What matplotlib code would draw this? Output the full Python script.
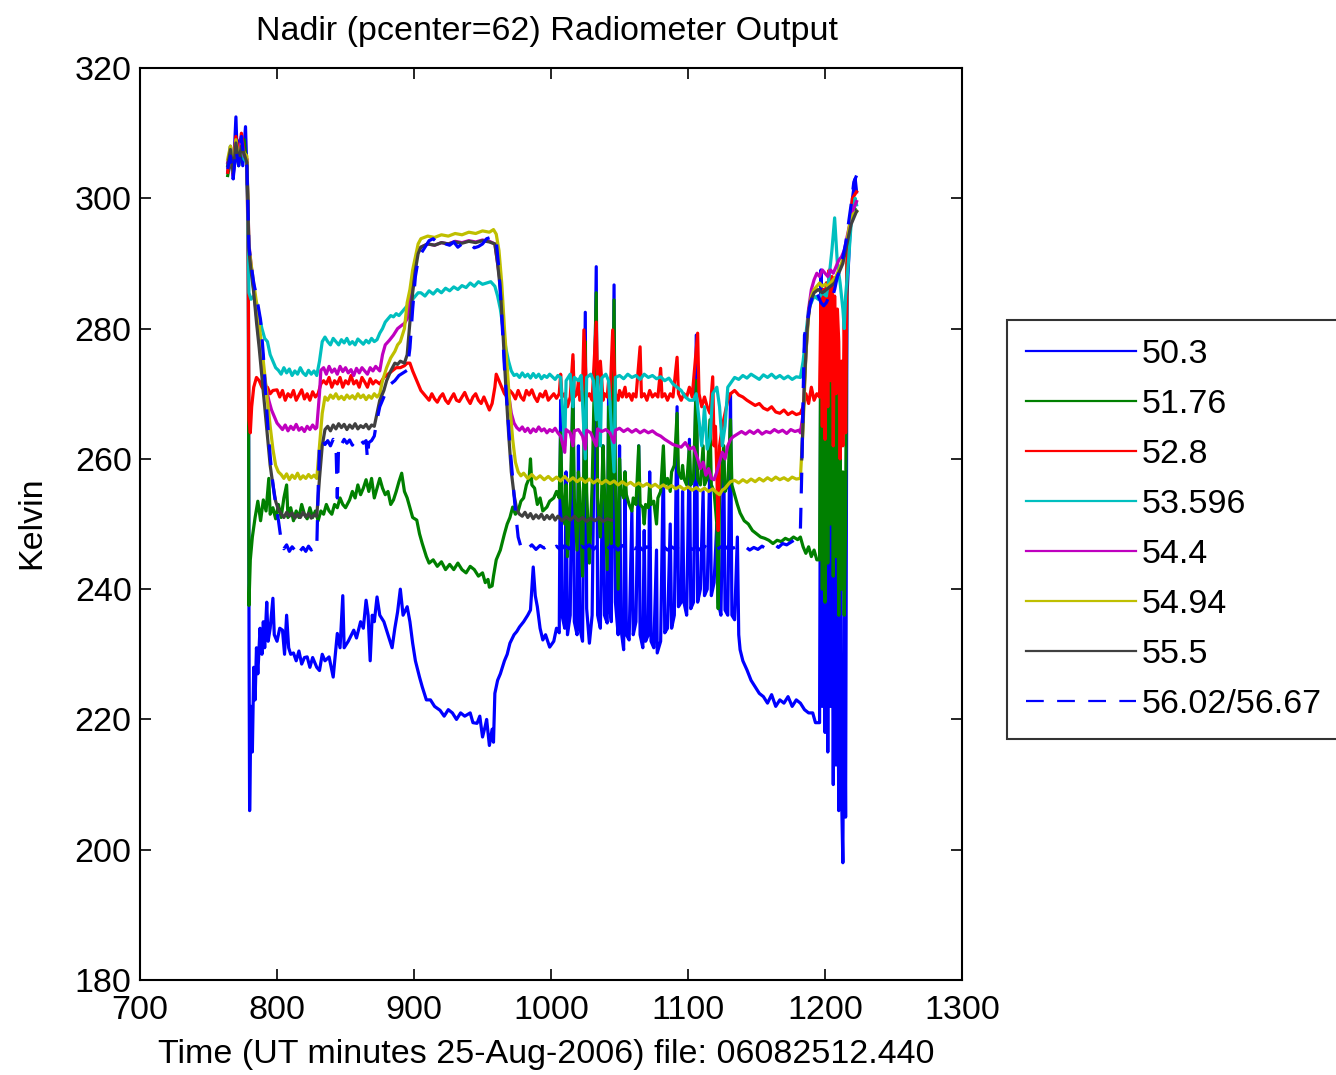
import numpy as np
import matplotlib
matplotlib.use("Agg")
import matplotlib.pyplot as plt

plt.rcParams['font.family'] = ['Liberation Sans', 'DejaVu Sans']

channels = ["50.3", "51.76", "52.8", "53.596", "54.4", "54.94", "55.5", "56.02/56.67"]
colors = [(0, 0, 1), (0, 0.5, 0), (1, 0, 0), (0, 0.75, 0.75),
          (0.75, 0, 0.75), (0.75, 0.75, 0), (0.25, 0.25, 0.25), (0, 0, 1)]

# (minute, kelvin) samples for each channel
ch_503 = [(764, 304), (766, 307), (768, 303), (770, 312.5), (771, 306), (773, 309), (775, 305), (777, 311),
          (778, 304), (779, 296), (779.6, 230), (780, 206), (781, 222), (782, 215), (783, 228), (784, 223),
          (785, 231), (786, 227), (787.6, 234), (789, 230), (790, 235), (791, 231), (792.5, 238), (793.5, 232),
          (795, 234), (797, 238.6), (798, 233), (800, 232), (802, 234), (804, 233.7), (805.5, 230), (807, 236),
          (808.5, 231), (810, 230), (812, 230.2), (814, 229), (816, 230.5), (818, 228.5), (820, 229.5),
          (822, 229.6), (824, 228), (826, 229.5), (829, 228), (831, 227.5), (833, 230), (835, 229),
          (838, 229.6), (841, 226.5), (844, 233.2), (846, 231), (848, 239), (849, 231), (852, 232),
          (856, 233.7), (858, 232.5), (861, 235), (863, 234), (865, 238.3), (866.5, 236), (868, 229),
          (869.5, 236), (871, 235), (873, 238.8), (875, 236), (878, 235), (881, 233), (884, 231), (886, 234),
          (888, 236.5), (890, 240), (892, 236), (895, 237.3), (897, 235), (899, 231.7), (901, 229),
          (904, 226.5), (906, 225), (909, 223), (912, 223), (915, 222), (919, 221.4), (922, 220.5),
          (925, 221.5), (928, 221), (931, 220), (934, 221), (937, 220.5), (941, 221), (943, 219.5),
          (946, 219.4), (948, 220.5), (950, 217.3), (952, 219), (953, 220), (955, 216), (957, 218.5),
          (958, 216.5), (959, 224), (961, 226), (963, 227), (966, 229), (968, 230), (970, 231.7), (973, 233),
          (975, 233.5), (977, 234.2), (980, 235), (983, 236), (985, 236.8), (987, 243.4), (988.5, 239),
          (990, 237.3), (992, 234), (994, 232.2), (996, 233), (999, 231.1), (1002, 232), (1004, 234),
          (1006, 233.3), (1007, 269), (1008, 236), (1010, 234), (1011, 258), (1012, 233), (1014, 236),
          (1016, 275), (1017, 235), (1019, 233), (1020, 262), (1021, 234), (1023, 232), (1025, 282.5),
          (1026, 237), (1028, 231.7), (1030, 236), (1033, 289.5), (1034, 236), (1036, 234), (1038, 262),
          (1039, 236), (1041, 234.8), (1042, 270), (1043, 237), (1044, 235), (1046, 286.7), (1047, 238),
          (1049, 233), (1050, 262), (1051, 234), (1053, 230.7), (1054, 258), (1055, 233), (1057, 232.2),
          (1059, 252), (1060, 233), (1062, 235), (1064, 262), (1065, 233), (1067, 231), (1068, 249),
          (1069, 232), (1071, 233), (1072, 258), (1073, 232), (1075, 231), (1077, 246), (1077.5, 230.2),
          (1080, 232), (1082, 260), (1083, 233.3), (1085, 234), (1087, 250), (1088, 234), (1090, 236),
          (1092, 268), (1093, 237.3), (1095, 238), (1096, 255), (1097, 238), (1099, 236), (1101, 263),
          (1102, 237), (1104, 238), (1106, 279), (1107, 238), (1109, 240), (1111, 255), (1112, 239),
          (1114, 240), (1116, 260), (1117, 239), (1119, 241), (1121, 250), (1122, 238), (1124, 236),
          (1126, 262), (1127, 236.8), (1129, 236), (1131, 270), (1132, 236), (1134, 235.3), (1136, 248),
          (1137, 233), (1138, 230.7), (1140, 229), (1143, 227.6), (1146, 226), (1149, 225), (1152, 224),
          (1155, 223.5), (1158, 222.5), (1161, 223.8), (1164, 222), (1167, 223), (1170, 222.5),
          (1173, 223.5), (1176, 222), (1179, 223), (1182, 222.5), (1185, 221.5), (1188, 221), (1191, 221),
          (1193, 219.5), (1196, 219.5), (1197, 289), (1198, 222), (1199, 275), (1200, 218), (1201, 268),
          (1202, 215), (1203, 262), (1204, 222), (1205, 255), (1206, 210), (1207, 250), (1208, 213),
          (1209, 247), (1210, 206), (1211, 246), (1212, 209), (1213, 198), (1214, 240), (1215, 205),
          (1216, 285), (1218, 294), (1220, 300), (1222, 303), (1223, 301)]

ch_5176 = [(764, 303.5), (766, 306), (768, 304), (770, 308), (772, 305), (774, 307.5), (776, 309), (778, 305),
           (779, 298), (779.5, 237.5), (780.5, 244.5), (782, 248), (784, 251), (786, 253.5), (788, 250.5),
           (790, 253.7), (792, 252), (794, 257), (795, 251.5), (797, 252.5), (799, 250.8), (801, 253),
           (803, 251), (805, 254), (807, 256), (808, 251), (810, 252.5), (812, 250.5), (814, 252), (816, 251),
           (818, 253), (820, 251.5), (822, 250.8), (824, 252.5), (826, 251), (828, 252), (830, 250.5),
           (832, 252), (834, 251.5), (836, 253), (838, 252), (840, 251.5), (842, 253), (844, 252.5),
           (846, 254), (848, 253), (850, 252.5), (853, 253.7), (855, 255), (857, 254), (859, 256),
           (861, 254.5), (863, 255.5), (865, 256.8), (867, 255), (869, 257), (871, 254), (873, 255.5),
           (875, 257), (877, 255.5), (879, 254.5), (881, 255), (883, 253), (885, 253.7), (887, 255),
           (889, 256.5), (891, 257.8), (893, 255), (895, 254), (897, 252.5), (899, 251), (902, 250.6),
           (904, 248.5), (906, 247), (909, 245), (911, 244), (914, 244.5), (917, 243.5), (920, 244.2),
           (923, 243), (926, 243.8), (929, 243), (932, 244), (935, 243), (938, 242.5), (941, 243.5),
           (944, 243), (947, 242), (950, 242.5), (952, 241), (954, 241.5), (955, 240.3), (957, 240.5),
           (958, 242), (960, 244.5), (963, 246), (966, 248.5), (968, 250), (970, 251), (972, 252.6),
           (974, 251.5), (976, 252), (978, 253.5), (980, 254), (982, 256), (984, 257), (985, 260),
           (986, 256), (988, 255.5), (990, 253), (992, 254), (994, 252), (997, 252.6), (999, 253.5),
           (1002, 254), (1004, 255), (1006, 254), (1007, 264), (1008, 255), (1010, 250), (1011, 256),
           (1012, 245), (1014, 254), (1016, 270), (1017, 254), (1019, 246), (1020, 258), (1021, 255),
           (1023, 242), (1025, 278), (1026, 255), (1028, 244), (1030, 256), (1033, 285.5), (1034, 254),
           (1036, 248), (1038, 262), (1039, 255), (1041, 243), (1042, 268), (1043, 256), (1044, 247),
           (1046, 284.4), (1047, 256), (1049, 240), (1050, 260), (1051, 255), (1053, 254), (1054, 258),
           (1055, 254.5), (1057, 253), (1059, 252), (1060, 254), (1062, 253), (1064, 262), (1065, 253),
           (1067, 252.5), (1068, 250), (1069, 253), (1071, 252.5), (1072, 256), (1073, 253), (1075, 253.5),
           (1077, 250), (1078, 254), (1080, 255), (1082, 262), (1083, 256), (1085, 257), (1087, 255),
           (1088, 258), (1090, 259), (1092, 267), (1093, 258), (1095, 257), (1096, 259), (1097, 257),
           (1099, 256), (1101, 262), (1102, 256), (1104, 257), (1106, 272), (1107, 257), (1109, 256),
           (1111, 262), (1112, 256), (1114, 257), (1116, 266), (1117, 256), (1119, 255), (1121, 250),
           (1122, 237), (1123, 255), (1124, 256), (1126, 262), (1127, 255), (1129, 256), (1131, 266),
           (1132, 256), (1134, 254.5), (1136, 253), (1138, 251.7), (1141, 250.5), (1144, 250), (1147, 249),
           (1150, 248.5), (1153, 248), (1156, 247.8), (1159, 247.5), (1162, 247), (1165, 247.5),
           (1168, 247.3), (1171, 247.8), (1174, 247.5), (1177, 248), (1180, 247.6), (1182, 248),
           (1184, 246.5), (1186, 245.5), (1188, 246.5), (1190, 245), (1192, 246), (1194, 244.5),
           (1196, 244.5), (1197, 285), (1198, 240), (1199, 284), (1200, 238), (1201, 287), (1202, 244),
           (1203, 286), (1204, 250), (1205, 283), (1206, 242), (1207, 280), (1208, 245), (1209, 270),
           (1210, 236), (1211, 262), (1212, 240), (1213, 258), (1214, 236), (1215, 250), (1216, 290),
           (1218, 296), (1220, 299), (1223, 298)]

ch_528 = [(764, 304), (766, 308), (768, 305), (770, 309.5), (772, 306), (774, 310), (776, 307), (778, 306),
          (779, 290), (779.5, 266), (780.5, 264), (781.5, 268), (783, 271), (785, 272.5), (787, 272),
          (789, 271), (791, 270.5), (793, 271), (795, 270), (797, 270.5), (800, 270.6), (802, 269.5),
          (804, 270.5), (806, 269), (808, 270), (810, 269.5), (812, 270.5), (814, 269), (816, 269.8),
          (818, 270.6), (820, 269.2), (822, 270), (824, 269), (826, 270.3), (828, 269.5), (830, 270),
          (832, 271.5), (834, 272), (836, 271.5), (838, 272.5), (840, 271), (842, 272), (844, 271.5),
          (846, 272.5), (848, 271), (850, 272), (852, 271.5), (854, 272.8), (856, 271.5), (858, 272),
          (860, 271), (862, 272.5), (864, 271.8), (866, 271), (868, 272.3), (870, 271.5), (872, 272),
          (875, 271.5), (878, 272.5), (881, 273), (884, 273.5), (887, 274), (890, 274), (893, 274.3),
          (895, 274.7), (897, 274.7), (899, 273.5), (901, 272.5), (903, 271.5), (905, 270.5), (907, 270),
          (909, 269.5), (911, 269), (913, 270), (915, 269.2), (917, 268.7), (919, 269.5), (921, 270),
          (923, 269), (925, 268.5), (927, 269.3), (929, 270), (931, 269), (933, 268.8), (935, 269.5),
          (937, 270.2), (939, 269.2), (941, 268.5), (943, 269.5), (945, 270), (947, 269), (949, 268.5),
          (951, 269.5), (953, 268.5), (955, 267.5), (957, 268.5), (959, 271), (960, 273), (962, 272),
          (964, 271), (966, 270), (968, 269.5), (970, 270.5), (972, 270), (974, 269.2), (976, 270.5),
          (978, 269.5), (980, 269), (982, 270.5), (984, 269.8), (986, 270.6), (988, 269.5), (990, 268.8),
          (992, 270), (994, 269.5), (996, 270.4), (998, 269), (1000, 269.5), (1002, 270), (1004, 269.3),
          (1006, 270), (1007, 273), (1008, 269.5), (1010, 270), (1012, 268), (1014, 269.5), (1016, 276),
          (1017, 269.5), (1019, 270), (1020, 272), (1021, 269), (1023, 270.5), (1024, 279.8), (1026, 269.5),
          (1028, 270), (1030, 269), (1033, 281), (1034, 270.5), (1036, 275), (1038, 269), (1039, 270),
          (1041, 269.5), (1042, 272), (1043, 269), (1045, 279.8), (1047, 270), (1049, 269), (1050, 270.5),
          (1052, 269.5), (1054, 271), (1055, 269.5), (1057, 270), (1059, 269), (1060, 270), (1062, 269.5),
          (1065, 277.2), (1066, 269.5), (1068, 270), (1070, 269), (1072, 270.5), (1074, 269.5), (1076, 270),
          (1078, 269.5), (1080, 273.9), (1081, 269.5), (1083, 270), (1085, 269), (1087, 270),
          (1089, 269.5), (1092, 275.6), (1093, 270), (1095, 269), (1097, 270), (1099, 269.5), (1101, 271),
          (1103, 269.5), (1107, 279.3), (1108, 270), (1110, 268), (1112, 269.5), (1114, 268), (1116, 267),
          (1118, 272.6), (1119, 262), (1120, 265), (1121, 258), (1122, 249), (1123, 262), (1125, 265),
          (1127, 267), (1129, 269), (1131, 270), (1134, 270.5), (1137, 269.8), (1140, 269.5), (1143, 269),
          (1146, 268.6), (1149, 268.2), (1152, 268.5), (1155, 267.8), (1158, 267.5), (1161, 268),
          (1164, 267.2), (1167, 267), (1170, 267.5), (1173, 266.8), (1176, 267.2), (1179, 266.8),
          (1182, 267), (1184, 268), (1186, 270), (1188, 268.5), (1190, 271), (1192, 269), (1194, 270),
          (1196, 269.5), (1197, 285), (1198, 265), (1199, 286), (1200, 263), (1201, 287), (1202, 268),
          (1203, 289), (1204, 272), (1205, 288), (1206, 262), (1207, 285), (1208, 270), (1209, 283),
          (1210, 278), (1211, 260), (1212, 275), (1213, 262), (1214, 283), (1215, 264), (1216, 290),
          (1218, 296), (1220, 300), (1223, 301)]

ch_53596 = [(764, 305), (766, 308), (768, 304.5), (770, 307), (772, 305.5), (774, 308.5), (776, 306),
            (778, 305.5), (779, 292), (779.5, 285.5), (781, 284.5), (783, 285), (785, 284), (787, 282),
            (789, 280), (791, 278.5), (793, 278), (795, 276), (797, 275), (799, 274), (801, 273.6),
            (803, 273), (805, 274), (807, 273.2), (809, 273.8), (811, 272.8), (813, 273.5), (815, 273),
            (817, 274), (819, 273.2), (821, 272.8), (823, 273.6), (825, 273), (827, 273.5), (829, 272.8),
            (831, 275), (833, 278), (835, 278.7), (837, 278), (839, 277.5), (841, 278.5), (843, 278),
            (845, 277.5), (847, 278.3), (849, 277.8), (851, 278.5), (853, 277.6), (855, 278), (857, 277.5),
            (859, 278.4), (861, 278), (863, 277.6), (865, 278.2), (867, 277.8), (869, 278.5), (871, 278),
            (873, 278.3), (875, 279.3), (877, 280), (879, 281), (881, 281.5), (883, 282), (885, 281.8),
            (887, 282.3), (889, 282), (891, 282.5), (893, 283), (895, 283.5), (897, 284), (899, 284.5),
            (901, 285), (903, 285.5), (905, 285.5), (908, 285), (911, 285.8), (914, 285.3), (917, 286),
            (920, 285.5), (923, 286.2), (926, 285.8), (929, 286.4), (932, 286), (935, 286.6), (938, 286.3),
            (941, 287), (944, 286.5), (947, 287.2), (950, 286.8), (953, 287), (956, 287.2), (959, 286.5),
            (961, 285), (963, 283), (965, 280), (967, 277), (969, 275), (971, 273.5), (973, 272.8),
            (975, 273), (977, 272.5), (979, 273.2), (981, 272.6), (983, 273), (985, 272.4), (987, 273.1),
            (989, 272.5), (991, 273), (993, 272.3), (995, 272.8), (997, 272.5), (999, 273), (1001, 272.6),
            (1003, 272.2), (1005, 272.8), (1007, 272.5), (1010, 262), (1011, 272), (1014, 273),
            (1016, 268), (1017, 272.5), (1020, 272), (1022, 272.8), (1025, 260), (1026, 272.5),
            (1029, 273), (1031, 272), (1033, 266), (1034, 272.6), (1036, 262), (1037, 272.4), (1040, 273),
            (1042, 272), (1046, 258), (1047, 272.5), (1050, 272.8), (1053, 272.3), (1056, 273),
            (1059, 272.5), (1062, 272.8), (1065, 272.2), (1068, 273), (1071, 272.5), (1074, 272.8),
            (1077, 272.3), (1080, 272.6), (1083, 272), (1086, 272.4), (1089, 271.5), (1092, 271),
            (1095, 270.5), (1098, 269.5), (1101, 269), (1104, 269), (1106, 270), (1108, 266), (1110, 262),
            (1112, 268), (1114, 261.5), (1116, 263), (1118, 270), (1121, 271), (1123, 268), (1125, 262),
            (1127, 265), (1129, 271), (1131, 271.6), (1134, 272.5), (1137, 272.2), (1140, 272.8),
            (1143, 272.4), (1146, 273), (1149, 272.6), (1152, 272.2), (1155, 272.9), (1158, 272.5),
            (1161, 273), (1164, 272.4), (1167, 272.8), (1170, 272.3), (1173, 272.7), (1176, 272.2),
            (1179, 272.6), (1182, 272.5), (1184, 275), (1186, 279), (1188, 283), (1190, 284), (1192, 285),
            (1195, 284.5), (1198, 285.5), (1201, 285), (1203, 288), (1205, 292), (1207, 297), (1209, 290),
            (1211, 287), (1213, 283), (1214, 280), (1215, 285), (1217, 290), (1219, 296), (1222, 300),
            (1223, 299)]

ch_544 = [(764, 305.5), (766, 307), (768, 303.5), (770, 308), (772, 306), (774, 309), (776, 306.5), (778, 306),
          (779.5, 293), (781, 290), (783, 286), (785, 282), (787, 278), (789, 275.5), (790, 273.6),
          (792, 271), (794, 269), (796, 267.5), (798, 266.5), (800, 265.5), (802, 265), (804, 264.5),
          (806, 265.2), (808, 264.3), (810, 265), (812, 264.5), (814, 265.3), (816, 264.4), (818, 264.8),
          (820, 264.2), (822, 265), (824, 264.5), (826, 265.2), (828, 264.6), (829, 264.8), (831, 270),
          (832, 273.6), (834, 274), (836, 273), (838, 274.2), (840, 273.3), (842, 273.8), (844, 273),
          (846, 274.2), (848, 273.4), (850, 274), (852, 273.2), (854, 273.7), (856, 272.8), (858, 273.9),
          (860, 273.2), (862, 274), (864, 273.5), (866, 273), (868, 274), (870, 273.5), (872, 274.2),
          (875, 273.5), (877, 276), (879, 277.5), (882, 278.2), (885, 279), (888, 280), (891, 280.5),
          (893, 280.8), (895, 281.5), (897, 284), (899, 288), (901, 290.5), (903, 292), (905, 292.5),
          (910, 293), (915, 292.8), (920, 293.2), (925, 293), (930, 293.4), (935, 293.2), (940, 293.5),
          (945, 293.3), (950, 293.6), (955, 293.4), (959, 293), (961, 290), (963, 287), (965, 280),
          (967, 275), (969, 270), (971, 267), (973, 265.5), (975, 264.8), (977, 264.4), (979, 264.9),
          (981, 264.2), (983, 264.7), (985, 264), (987, 264.6), (989, 264.2), (991, 264.9), (993, 264.3),
          (995, 264.6), (997, 264), (999, 264.5), (1001, 264.2), (1003, 264.7), (1005, 264),
          (1007, 263.5), (1010, 261), (1011, 264.5), (1014, 264), (1016, 262), (1017, 264.3),
          (1020, 264.5), (1023, 263.5), (1025, 261.5), (1026, 264.4), (1029, 264), (1033, 262),
          (1034, 264.6), (1037, 264.2), (1040, 264.5), (1043, 264), (1046, 262.5), (1047, 264.4),
          (1050, 264.7), (1053, 264.2), (1056, 264.6), (1059, 264.1), (1062, 264.5), (1065, 264),
          (1068, 264.4), (1071, 264), (1074, 264.3), (1077, 263.8), (1080, 263.5), (1083, 263),
          (1086, 262.6), (1089, 262.2), (1092, 262), (1095, 261.8), (1098, 262.5), (1101, 261.5),
          (1104, 261.8), (1107, 260), (1109, 258.5), (1111, 259.5), (1113, 257.5), (1115, 258.5),
          (1117, 257), (1119, 256.8), (1121, 258), (1123, 259.5), (1125, 261), (1127, 260), (1129, 262),
          (1131, 263), (1133, 263.4), (1136, 263.8), (1139, 264.2), (1142, 263.8), (1145, 264.3),
          (1148, 263.9), (1151, 264.4), (1154, 263.8), (1157, 264.2), (1160, 264), (1163, 264.5),
          (1166, 264.1), (1169, 264.4), (1172, 263.9), (1175, 264.5), (1178, 264.2), (1181, 264.4),
          (1182, 264), (1184, 267), (1186, 276), (1188, 283), (1190, 286), (1192, 287.5), (1194, 288.5),
          (1196, 288), (1198, 289), (1200, 288.5), (1202, 288), (1204, 289), (1206, 288.5), (1208, 289.5),
          (1210, 290.5), (1212, 291), (1214, 292), (1216, 294), (1218, 296), (1220, 298), (1223, 299.5)]

ch_5494 = [(764, 306), (766, 308), (768, 304), (770, 309), (772, 306), (774, 308), (776, 307), (778, 306.5),
           (779.5, 292.5), (781, 290), (783, 287), (785, 284), (787, 280.5), (789, 277), (791, 273),
           (793, 269), (795, 265), (797, 261.5), (799, 259), (801, 258), (803, 257.6), (805, 257),
           (807, 257.7), (809, 256.8), (811, 257.5), (813, 257), (815, 257.8), (817, 256.9), (819, 257.4),
           (821, 257), (823, 257.6), (825, 257.1), (827, 257.5), (829, 257), (831, 262), (833, 267),
           (835, 269.5), (837, 269), (839, 269.8), (841, 269.3), (843, 270), (845, 269.2), (847, 269.6),
           (849, 269.1), (851, 269.8), (853, 269.3), (855, 269.7), (857, 269.2), (859, 270), (861, 269.4),
           (863, 269.8), (865, 269.1), (867, 269.7), (869, 269.3), (871, 270), (873, 269.5), (875, 270),
           (877, 272), (880, 274), (883, 275.5), (886, 276.5), (888, 277.5), (890, 278), (893, 280),
           (895, 284), (897, 286), (899, 289), (901, 291), (903, 293), (905, 293.8), (910, 294.2),
           (915, 294), (920, 294.4), (925, 294.2), (930, 294.6), (935, 294.4), (940, 294.8), (945, 294.6),
           (950, 295), (955, 294.8), (958, 295.2), (960, 294.5), (962, 292), (964, 287), (966, 280),
           (968, 274), (970, 268), (972, 263), (974, 259.5), (976, 258), (978, 257.4), (980, 257.8),
           (983, 257), (986, 257.6), (989, 256.9), (992, 257.4), (995, 256.8), (998, 257.3), (1001, 256.7),
           (1004, 257.2), (1007, 256.6), (1010, 257.3), (1013, 256.6), (1016, 257.1), (1019, 256.5),
           (1022, 257), (1025, 256.4), (1028, 256.9), (1031, 256.3), (1034, 256.8), (1037, 256.2),
           (1040, 256.7), (1043, 256.2), (1046, 256.6), (1049, 256), (1052, 256.5), (1055, 256),
           (1058, 256.4), (1061, 255.9), (1064, 256.3), (1067, 255.8), (1070, 256.2), (1073, 255.7),
           (1076, 256.1), (1079, 255.6), (1082, 256), (1085, 255.5), (1088, 255.9), (1091, 255.4),
           (1094, 255.8), (1097, 255.3), (1100, 255.7), (1103, 255.2), (1106, 255.6), (1109, 255.1),
           (1112, 255.5), (1115, 255), (1118, 255.4), (1121, 254.8), (1123, 254.5), (1125, 255.2),
           (1127, 255.5), (1129, 256), (1131, 256.5), (1134, 256.7), (1137, 256.3), (1140, 256.8),
           (1143, 256.4), (1146, 256.9), (1149, 256.5), (1152, 257), (1155, 256.6), (1158, 257.1),
           (1161, 256.7), (1164, 257.2), (1167, 256.8), (1170, 257.1), (1173, 256.7), (1176, 257.2),
           (1179, 256.9), (1182, 257), (1184, 265), (1186, 276), (1188, 282), (1190, 285), (1192, 286),
           (1194, 286.5), (1196, 287), (1198, 286.5), (1200, 286.8), (1202, 286.5), (1204, 287),
           (1206, 287.5), (1208, 288), (1210, 289), (1212, 290), (1214, 291.5), (1216, 293.5), (1218, 296),
           (1220, 297.5), (1223, 298)]

ch_555 = [(764, 305), (766, 307.5), (768, 303.8), (770, 308.5), (772, 305.5), (774, 308), (776, 306.8),
          (778, 305.5), (779.5, 292), (781, 289), (783, 285.5), (785, 281), (787, 277), (789, 272.5),
          (791, 268), (793, 263.5), (795, 259), (797, 256), (799, 253.5), (801, 252.2), (803, 251.6),
          (805, 251), (807, 251.8), (809, 251.2), (811, 251.7), (813, 250.9), (815, 251.5), (817, 251),
          (819, 251.8), (821, 251.1), (823, 251.6), (825, 250.9), (827, 251.4), (829, 251.2), (831, 257),
          (833, 262), (835, 264.5), (837, 265), (839, 264.3), (841, 265.2), (843, 264.6), (845, 265.4),
          (847, 264.8), (849, 265.3), (851, 264.5), (853, 265.2), (855, 264.7), (857, 265.4), (859, 264.6),
          (861, 265.1), (863, 264.8), (865, 265.3), (867, 264.6), (869, 265.2), (871, 265), (873, 267),
          (875, 269), (878, 270.5), (880, 272), (883, 273.5), (886, 274.7), (888, 274.5), (890, 275),
          (893, 274.7), (895, 276), (897, 281), (899, 285.5), (901, 289), (903, 291.5), (905, 292.5),
          (910, 293), (915, 292.8), (920, 293.2), (925, 293), (930, 293.3), (935, 293.1), (940, 293.4),
          (945, 293.2), (950, 293.5), (955, 293.3), (959, 293), (961, 290), (963, 286), (965, 279),
          (967, 271), (969, 264), (971, 258), (973, 254.5), (975, 252.2), (977, 251.5), (979, 251.2),
          (981, 251.8), (983, 251), (985, 251.6), (987, 250.8), (989, 251.4), (991, 250.9), (993, 251.5),
          (995, 250.7), (997, 251.3), (999, 250.8), (1001, 251.4), (1003, 250.6), (1005, 251.2),
          (1008, 250.5), (1011, 251.1), (1014, 250.6), (1017, 251.2), (1020, 250.5), (1023, 251),
          (1026, 250.4), (1029, 250.9), (1032, 250.5), (1035, 251), (1038, 250.4), (1041, 250.8),
          (1044, 250.6), (1045, np.nan), (1183, 260), (1185, 272), (1187, 280), (1189, 284),
          (1192, 285.5), (1195, 286), (1198, 285.5), (1201, 286), (1204, 286.5), (1207, 287),
          (1210, 288.5), (1213, 290), (1216, 293), (1219, 296), (1223, 298)]

ch_5602 = [(764, 304.5), (766, 306.5), (768, 303), (770, 307.5), (772, 305), (774, 309.5), (776, 306),
           (778, 305), (779.5, 292.5), (781, 290), (783, 287), (785, 285), (788, 281.3), (790, 276),
           (792, 269), (794, 263), (796, 258), (798, 254.5), (801, 250.6), (803, 247.5), (805, 246.2),
           (807, 246.8), (809, 245.8), (811, 246.5), (813, 246), (815, 246.9), (817, 245.9), (819, 246.4),
           (821, 245.8), (823, 246.6), (825, 246), (827, 246.5), (829, 246.2), (830, 255), (831, 262.4),
           (833, 263), (835, 262.2), (837, 262.8), (839, 262), (841, 263), (843, 262.4), (844, 254),
           (845, 262.5), (847, 262.2), (849, 263), (851, 262.4), (853, 262.9), (855, 262.1), (857, 262.7),
           (859, 262.3), (861, 263), (863, 262.4), (865, 262.8), (866, 260), (867, 262.5), (869, 262.8),
           (871, 263.5), (873, 266), (875, 268), (878, 269.5), (880, 270.5), (883, 271.5), (886, 272),
           (889, 272.8), (892, 273.2), (895, 273.6), (897, 277), (899, 283), (901, 288), (903, 290.5),
           (905, 291.5), (908, 292.5), (911, 293.5), (914, 293.8), (917, 293.2), (920, 293.7), (923, 293),
           (926, 292.8), (929, 293.3), (932, 292.5), (935, 293), (938, 292.6), (941, 293), (944, 292.4),
           (947, 292.6), (950, 293), (953, 293.8), (956, 294), (958, 294.3), (960, 293.5), (962, 289),
           (964, 282), (966, 274), (968, 268), (970, 262), (972, 257), (974, 252), (976, 248),
           (978, 246.5), (980, 246.9), (983, 246.2), (986, 246.8), (989, 246.1), (992, 246.7),
           (995, 246.3), (998, 246.9), (1001, 246.2), (1004, 246.6), (1007, 246), (1010, 246.7),
           (1013, 246.2), (1016, 246.8), (1019, 246.1), (1022, 246.6), (1025, 246.3), (1028, 246.8),
           (1031, 246.1), (1034, 246.7), (1037, 246.3), (1040, 246.9), (1043, 246.2), (1046, 246.6),
           (1049, 246), (1052, 246.7), (1055, 246.3), (1058, 246.8), (1061, 246.2), (1064, 246.6),
           (1067, 246), (1070, 246.5), (1073, 246.2), (1076, 246.8), (1079, 246.3), (1082, 246.6),
           (1085, 246), (1088, 246.5), (1091, 246.1), (1094, 246.7), (1097, 246.2), (1100, 246.6),
           (1103, 246.1), (1106, 246.5), (1109, 246), (1112, 246.6), (1115, 246.2), (1118, 246.7),
           (1121, 246.1), (1124, 246.5), (1127, 246.2), (1130, 246.7), (1133, 246.3), (1136, 246.6),
           (1139, 246.1), (1142, 246.5), (1145, 246), (1148, 246.4), (1151, 246.1), (1154, 246.6),
           (1157, 246.2), (1160, 246.5), (1163, 246.9), (1166, 246.4), (1169, 247), (1172, 246.8),
           (1175, 247.2), (1178, 247.6), (1180, 248), (1182, 249), (1183, 258), (1184, 270), (1185, 279),
           (1187, 281), (1189, 283.5), (1191, 285), (1193, 286), (1195, 285), (1197, 284), (1199, 283.5),
           (1201, 284), (1203, 285), (1205, 284.5), (1207, 286), (1209, 288), (1211, 289), (1213, 291),
           (1215, 293), (1217, 296), (1219, 299), (1221, 302.5), (1223, 303.5)]

series = [ch_503, ch_5176, ch_528, ch_53596, ch_544, ch_5494, ch_555, ch_5602]
styles = ['-'] * 7 + [(0, (6.5, 4.5))]

fig = plt.figure(figsize=(13.36, 10.75), dpi=100)
ax = fig.add_axes([0.1048, 0.0884, 0.6153, 0.8483])

handles = []
for data, name, col, ls in zip(series, channels, colors, styles):
    t = [p[0] for p in data]
    k = [p[1] for p in data]
    h, = ax.plot(t, k, color=col, linestyle=ls, linewidth=2.3, label=name)
    handles.append(h)

ax.set_xlim(700, 1300)
ax.set_ylim(180, 320)
ax.set_xticks(np.arange(700, 1301, 100))
ax.set_yticks(np.arange(180, 321, 20))
ax.tick_params(direction='in', length=8, width=1.2, top=True, right=True, labelsize=24.5)
ax.tick_params(axis='y', pad=6)
ax.tick_params(axis='x', pad=11)
for s in ax.spines.values():
    s.set_linewidth(1.5)

fig.text(0.4094, 0.9628, "Nadir (pcenter=62) Radiometer Output", ha='center', va='baseline', fontsize=24.5)
fig.text(0.4087, 0.0112, "Time (UT minutes 25-Aug-2006) file: 06082512.440", ha='center', va='baseline',
         fontsize=24.5)
fig.text(0.024, 0.514, "Kelvin", rotation=90, ha='center', va='center', fontsize=24.5)

leg = fig.legend(handles=handles, loc='upper left', bbox_to_anchor=(0.7537, 0.7023),
                 fontsize=24.5, frameon=True, fancybox=False, handlelength=3.25, handletextpad=0.15,
                 labelspacing=0.56, borderpad=0.55, borderaxespad=0)
leg.get_frame().set_edgecolor('black')
leg.get_frame().set_linewidth(1.5)
for line in leg.get_lines():
    line.set_linewidth(1.6)
leg.get_lines()[-1].set_dashes((8, 6))

fig.savefig("out.png", dpi=100)
